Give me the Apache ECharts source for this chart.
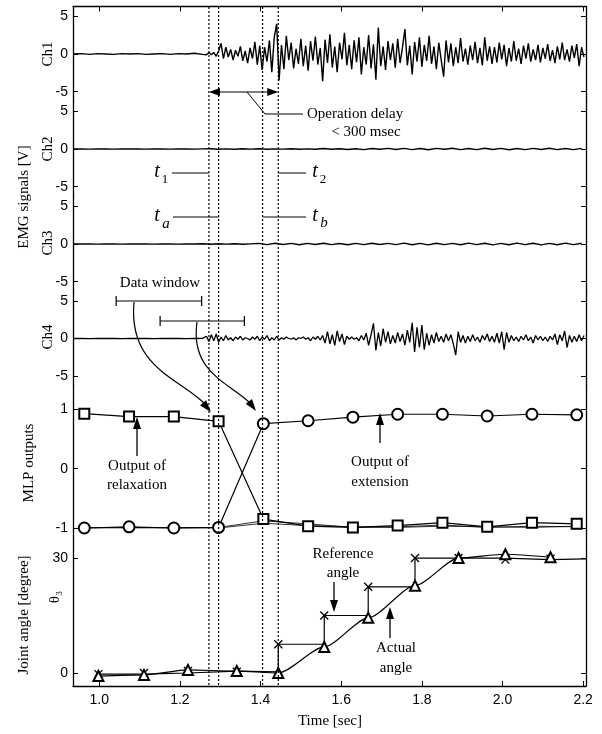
<!DOCTYPE html>
<html>
<head>
<meta charset="utf-8">
<script src="https://cdn.jsdelivr.net/npm/echarts@6/dist/echarts.min.js"></script>
<style>
  html, body { margin: 0; padding: 0; background: #fff; }
  #main { width: 602px; height: 734px; }
</style>
</head>
<body>
<div id="main"></div>
<script>
// data

// time axis [sec]
var timeMin = 0.935;
var timeMax = 2.207;
var timeTicks = [1.0, 1.2, 1.4, 1.6, 1.8, 2.0, 2.2];

// t1, ta, tb, t2 (dotted lines)
var markTimes = [1.272, 1.296, 1.405, 1.444];

// EMG: quiet part before onset, 0.02 s apart
var baseStart = 0.936;
var baseStep = 0.02;
var ch1Base = [0.0, 0.05, -0.05, 0.05, 0.0, -0.05, 0.05, 0.0, 0.05, -0.05, 0.0, 0.05, -0.05, 0.05, 0.0, 0.1, -0.05];
var ch4Base = [0.0, 0.02, -0.02, 0.0, 0.02, 0.0, -0.02, 0.0, 0.02, 0.0, -0.02, 0.0, 0.02, 0.0, -0.02, 0.0, 0.02];

// EMG: active part, 0.006 s apart
var burstStart = 1.26;
var burstStep = 0.006;
var ch1Burst = [
  0.1, -0.1, 0.2, -0.1, 0.2, -0.3, 0.4, 1.4, -0.6, 0.9,
  -0.4, 0.6, -0.8, 0.5, -0.3, 1.0, -0.9, 0.4, -1.2, 0.8,
  -0.6, 1.6, -1.4, 1.1, -2.1, 0.9, -1.0, 1.8, -2.4, 2.2,
  4.0, -3.5, 1.2, -2.0, 2.4, -0.8, 1.5, -1.9, 0.7, -1.3,
  2.0, -1.6, 1.1, -2.2, 1.7, -0.9, 2.3, -1.4, 0.8, -3.6,
  1.9, -1.2, 2.6, -1.8, 1.0, -2.4, 1.5, -0.7, 2.8, -1.5,
  1.2, -2.0, 1.8, -1.1, 2.2, -2.7, 0.9, -1.4, 2.5, -1.9,
  1.3, -3.4, 3.5, -1.6, 1.0, -2.1, 1.7, -0.8, 1.4, -1.8,
  2.0, -1.2, 0.9, 3.3, -1.5, 1.1, -2.7, 1.6, -1.0, 2.2,
  -1.7, 1.2, -0.9, 2.4, -1.3, 1.0, -2.0, 1.5, -0.8, -3.0,
  1.8, -1.1, 1.4, -1.6, 0.9, -1.2, 2.1, -1.0, 0.7, -1.4,
  1.1, -0.8, 1.6, -1.2, 0.8, -1.5, 2.2, -0.9, 1.0, -1.3,
  0.9, -1.1, 1.5, -0.7, 1.2, -1.6, 0.8, -1.0, 1.7, -0.9,
  0.7, -1.3, 1.1, -0.6, 1.4, -1.0, 0.6, -0.8, 1.2, -1.1,
  0.8, -0.6, 1.3, -0.9, 0.5, -1.2, 1.0, -0.7, 1.5, -0.8,
  0.6, -1.0, 1.1, -0.5, 1.3, -1.6, 0.9, -0.4
];
var ch4Burst = [
  0.0, 0.3, -0.4, 0.5, -0.3, 0.6, -0.5, 0.2, -0.3, 0.4,
  -0.2, 0.1, -0.3, 0.2, -0.1, 0.3, -0.2, 0.1, 0.0, -0.2,
  0.2, -0.1, 0.3, -0.3, 0.2, -0.1, 0.4, -0.3, 0.1, -0.2,
  0.3, -0.2, 0.1, -0.1, 0.2, 0.0, -0.1, 0.1, -0.2, 0.1,
  0.0, 0.2, -0.1, 0.1, -0.3, 0.2, -0.1, 0.3, -0.2, 0.4,
  -0.6, 0.9, -0.7, 0.5, -0.9, 1.0, -0.4, 0.6, -0.8, 0.3,
  -0.1, 0.2, -0.1, 0.1, -0.3, 0.4, -0.2, 0.7, -0.9, 0.5,
  2.0, -1.6, 0.8, -1.0, 1.3, -0.5, 0.9, -0.7, 0.4, -0.6,
  0.8, -0.4, 0.6, -0.9, 1.1, -0.5, 2.1, -1.8, 1.5, -1.2,
  1.8, -1.5, 0.7, -0.9, 0.5, -0.6, 0.8, -0.4, 0.3, -0.5,
  0.6, -0.3, 0.5, -0.7, -2.2, 0.9, -0.5, 0.4, -0.6, 0.3,
  -0.4, 0.5, -0.3, 0.2, -0.5, 0.4, -0.2, 0.6, -0.4, 0.3,
  -0.5, 0.7, -0.6, 0.9, -1.5, 0.8, -0.5, 0.4, -0.3, 0.2,
  -0.4, 0.3, -0.2, 0.5, -0.3, 0.2, -0.6, 0.4, -0.2, 0.3,
  -0.3, 0.2, -0.4, 0.3, -0.2, 0.6, -0.8, 0.5, -0.3, 1.0,
  -1.2, 0.4, -0.5, 0.3, -0.4, 0.5, -0.3, 0.4
];

// Ch2, Ch3: nearly flat over the whole range, 0.02 s apart
var ch2 = [
  0.0, 0.02, -0.02, 0.0, 0.02, -0.02, 0.0, 0.02, 0.0, -0.02,
  0.02, 0.0, -0.02, 0.02, 0.0, -0.02, 0.02, 0.04, -0.04, 0.02,
  -0.04, 0.04, -0.02, 0.04, -0.04, 0.02, -0.02, 0.04, -0.04, 0.02,
  -0.04, 0.06, -0.04, 0.04, -0.06, 0.04, -0.08, 0.06, -0.04, 0.08,
  -0.06, 0.08, -0.08, 0.06, -0.1, 0.08, -0.04, 0.1, -0.08, 0.06,
  -0.08, 0.1, -0.06, 0.08, -0.1, 0.06, -0.08, 0.08, -0.06, 0.1,
  -0.08, 0.06, -0.08, 0.08
];
var ch3 = [
  0.0, 0.02, 0.0, -0.02, 0.0, 0.02, -0.02, 0.0, 0.02, 0.0,
  -0.02, 0.02, 0.0, -0.02, 0.02, 0.0, 0.04, -0.04, 0.04, -0.02,
  0.04, -0.04, 0.02, 0.08, -0.08, 0.1, -0.06, 0.08, -0.1, 0.08,
  -0.06, 0.1, -0.08, 0.06, -0.1, 0.08, -0.08, 0.1, -0.06, 0.08,
  -0.08, 0.12, -0.1, 0.08, -0.12, 0.1, -0.08, 0.08, -0.1, 0.12,
  -0.08, 0.1, -0.12, 0.08, -0.1, 0.12, -0.08, 0.1, -0.12, 0.08,
  -0.1, 0.12, -0.08, 0.1
];

// MLP outputs, one every ~0.111 s
var mlpTimes = [0.963, 1.074, 1.185, 1.296, 1.407, 1.518, 1.629, 1.740, 1.851, 1.962, 2.073, 2.184];
var relaxation = [0.93, 0.88, 0.88, 0.80, -0.85, -0.97, -0.99, -0.96, -0.91, -0.98, -0.91, -0.93];
var extension = [-1.0, -0.98, -1.0, -0.99, 0.76, 0.81, 0.87, 0.92, 0.92, 0.89, 0.92, 0.91];
var otherOut1 = [-1.0, -0.99, -1.0, -0.99, -0.88, -0.93, -0.99, -0.98, -0.95, -0.99, -0.97, -0.98];
var otherOut2 = [-0.99, -1.0, -0.99, -1.0, -0.92, -0.96, -0.98, -0.99, -0.97, -0.98, -0.99, -0.97];

// joint angle theta3 [degree]
var angleTimes = [0.998, 1.111, 1.220, 1.341, 1.444, 1.558, 1.667, 1.783, 1.891, 2.007, 2.119];
var refAngle = [-0.3, 0.0, 0.5, 0.3, 7.5, 15.0, 22.5, 30.0, 30.0, 29.6, 29.8];
var actualAngle = [-0.8, -0.5, 0.8, 0.5, 0.0, 6.8, 14.4, 22.8, 30.0, 31.0, 30.2];

// axis ranges of the six stacked panels
var panelTops = [6.5, 101.5, 196.5, 291.5, 385.5, 537];
var panelHeights = [95, 95, 95, 94, 151.5, 149];
var panelMin = [-6.3, -6.3, -6.3, -6.25, -1.152, -3.4];
var panelMax = [6.3, 6.3, 6.3, 6.25, 1.405, 35.5];
var panelTicks = [[-5, 0, 5], [-5, 0, 5], [-5, 0, 5], [-5, 0, 5], [-1, 0, 1], [0, 30]];

function seq(start, step, vals) {
  return vals.map(function (v, i) { return [+(start + i * step).toFixed(4), v]; });
}
function pairs(ts, vals) {
  return vals.map(function (v, i) { return [ts[i], v]; });
}

var myChart = echarts.init(document.getElementById('main'));

var tickFont = { fontFamily: 'Liberation Sans', fontSize: 14, color: '#000' };
var serif = '"Liberation Serif", "DejaVu Serif", serif';

var grids = [], xAxes = [], yAxes = [];
for (var i = 0; i < 6; i++) {
  grids.push({ left: 73, right: 16, top: panelTops[i], height: panelHeights[i] });
  var isTop = i === 0, isBottom = i === 5;
  xAxes.push({
    gridIndex: i, type: 'value', min: timeMin, max: timeMax,
    show: isTop || isBottom,
    position: isTop ? 'top' : 'bottom',
    axisLine: { show: true, onZero: false, lineStyle: { color: '#000', width: 1.3 } },
    axisTick: { show: true, inside: true, length: 5, customValues: timeTicks, lineStyle: { color: '#000' } },
    axisLabel: isBottom ? Object.assign({ show: true, margin: 7, customValues: timeTicks,
      formatter: function (v) { return v.toFixed(1); } }, tickFont) : { show: false },
    splitLine: { show: false }
  });
}
for (var j = 0; j < 6; j++) {
  yAxes.push({
    gridIndex: j, type: 'value', position: 'left', min: panelMin[j], max: panelMax[j],
    axisLine: { show: true, onZero: false, lineStyle: { color: '#000', width: 1.3 } },
    axisTick: { show: true, inside: true, length: 5, customValues: panelTicks[j], lineStyle: { color: '#000' } },
    axisLabel: Object.assign({ show: true, margin: 5, customValues: panelTicks[j] }, tickFont),
    splitLine: { show: false }
  });
}
for (var k = 0; k < 6; k++) {
  yAxes.push({
    gridIndex: k, type: 'value', position: 'right', min: panelMin[k], max: panelMax[k],
    axisLine: { show: true, onZero: false, lineStyle: { color: '#000', width: 1.3 } },
    axisTick: { show: true, inside: true, length: 5, customValues: panelTicks[k], lineStyle: { color: '#000' } },
    axisLabel: { show: false },
    splitLine: { show: false }
  });
}

function emgSeries(idx, data, w) {
  return {
    type: 'line', xAxisIndex: idx, yAxisIndex: idx, data: data,
    showSymbol: false, symbol: 'none', silent: true,
    lineStyle: { color: '#000', width: w }
  };
}

var refData = pairs(angleTimes, refAngle);
refData.push({ value: [timeMax, refAngle[refAngle.length - 1]], symbol: 'none' });

var option = {
  animation: false,
  backgroundColor: '#fff',
  grid: grids,
  xAxis: xAxes,
  yAxis: yAxes,
  series: [
    emgSeries(0, seq(baseStart, baseStep, ch1Base).concat(seq(burstStart, burstStep, ch1Burst)), 1.4),
    emgSeries(1, seq(baseStart, baseStep, ch2), 1.4),
    emgSeries(2, seq(baseStart, baseStep, ch3), 1.4),
    emgSeries(3, seq(baseStart, baseStep, ch4Base).concat(seq(burstStart, burstStep, ch4Burst)), 1.3),
    {
      type: 'line', xAxisIndex: 4, yAxisIndex: 4, data: pairs(mlpTimes, otherOut1),
      symbol: 'none', lineStyle: { color: '#000', width: 0.8 }
    },
    {
      type: 'line', xAxisIndex: 4, yAxisIndex: 4, data: pairs(mlpTimes, otherOut2),
      symbol: 'none', lineStyle: { color: '#000', width: 0.8 }
    },
    {
      type: 'line', xAxisIndex: 4, yAxisIndex: 4, data: pairs(mlpTimes, relaxation),
      symbol: 'emptyRect', symbolSize: 10,
      itemStyle: { color: '#000', borderWidth: 1.2 },
      lineStyle: { color: '#000', width: 1.2 }
    },
    {
      type: 'line', xAxisIndex: 4, yAxisIndex: 4, data: pairs(mlpTimes, extension),
      symbol: 'emptyCircle', symbolSize: 11,
      itemStyle: { color: '#000', borderWidth: 1.2 },
      lineStyle: { color: '#000', width: 1.2 }
    },
    {
      type: 'line', xAxisIndex: 5, yAxisIndex: 5, data: refData, step: 'end',
      symbol: 'path://M0,0L10,10M10,0L0,10', symbolSize: 8,
      itemStyle: { color: '#000', borderColor: '#000', borderWidth: 1.3 },
      lineStyle: { color: '#000', width: 1.2 }
    },
    {
      type: 'line', xAxisIndex: 5, yAxisIndex: 5, data: pairs(angleTimes, actualAngle),
      smooth: 0.25, smoothMonotone: 'x',
      symbol: 'emptyTriangle', symbolSize: 10,
      itemStyle: { color: '#000', borderWidth: 1.2 },
      lineStyle: { color: '#000', width: 1.2 }
    }
  ]
};

myChart.setOption(option);

// annotations
function X(t) { return myChart.convertToPixel({ xAxisIndex: 0 }, t); }

function txt(x, y, s, size, extra) {
  var o = {
    type: 'text', x: x, y: y, z: 50,
    style: { text: s, font: (size || 15) + 'px ' + serif, fill: '#000', textAlign: 'center', textVerticalAlign: 'middle' }
  };
  if (extra) { Object.assign(o, extra); }
  return o;
}
function ln(x1, y1, x2, y2, w) {
  return { type: 'line', z: 50, shape: { x1: x1, y1: y1, x2: x2, y2: y2 }, style: { stroke: '#000', lineWidth: w || 1.2 } };
}
function head(tx, ty, ang, len, wid) {
  var c = Math.cos(ang), s = Math.sin(ang);
  var bx = tx - c * len, by = ty - s * len;
  return {
    type: 'polygon', z: 51,
    shape: { points: [[tx, ty], [bx - s * wid / 2, by + c * wid / 2], [bx + s * wid / 2, by - c * wid / 2]] },
    style: { fill: '#000' }
  };
}

var g = [];
markTimes.forEach(function (t) {
  g.push({ type: 'line', z: 60, shape: { x1: X(t), y1: 7, x2: X(t), y2: 686 },
    style: { stroke: '#000', lineWidth: 1.2, lineDash: [2, 2] } });
});

// operation delay
var xa = X(markTimes[0]), xb = X(markTimes[3]);
g.push(ln(xa + 8, 92, xb - 8, 92));
g.push(head(xa, 92, Math.PI, 11, 8));
g.push(head(xb, 92, 0, 11, 8));
g.push(ln(247, 92, 265, 114, 1));
g.push(ln(265, 114, 303, 114, 1));
g.push(txt(307, 114, 'Operation delay', 15, { style: { text: 'Operation delay', font: '15px ' + serif, fill: '#000', textAlign: 'left', textVerticalAlign: 'middle' } }));
g.push(txt(366, 132, '< 300 msec', 15));

// t1, ta, tb, t2
var tFont = 'italic 20px ' + serif;
g.push({ type: 'text', x: 157, y: 172, z: 50, style: { text: 't', font: tFont, fill: '#000', textAlign: 'center', textVerticalAlign: 'middle' } });
g.push(txt(165, 180, '1', 13));
g.push(ln(172, 173, X(markTimes[0]), 173, 1));
g.push({ type: 'text', x: 157, y: 216, z: 50, style: { text: 't', font: tFont, fill: '#000', textAlign: 'center', textVerticalAlign: 'middle' } });
g.push({ type: 'text', x: 166, y: 224, z: 50, style: { text: 'a', font: 'italic 15px ' + serif, fill: '#000', textAlign: 'center', textVerticalAlign: 'middle' } });
g.push(ln(173, 217, X(markTimes[1]), 217, 1));
g.push(ln(X(markTimes[3]), 173, 306, 173, 1));
g.push({ type: 'text', x: 315, y: 172, z: 50, style: { text: 't', font: tFont, fill: '#000', textAlign: 'center', textVerticalAlign: 'middle' } });
g.push(txt(323, 180, '2', 13));
g.push(ln(X(markTimes[2]), 217, 306, 217, 1));
g.push({ type: 'text', x: 315, y: 216, z: 50, style: { text: 't', font: tFont, fill: '#000', textAlign: 'center', textVerticalAlign: 'middle' } });
g.push({ type: 'text', x: 324, y: 223, z: 50, style: { text: 'b', font: 'italic 15px ' + serif, fill: '#000', textAlign: 'center', textVerticalAlign: 'middle' } });

// data windows
var win1 = [1.042, 1.254], win2 = [1.151, 1.360];
g.push(txt(160, 283, 'Data window', 15));
[[win1, 301], [win2, 321]].forEach(function (w) {
  var a = X(w[0][0]), b = X(w[0][1]), y = w[1];
  g.push(ln(a, y, b, y, 1.2));
  g.push(ln(a, y - 5, a, y + 5, 1.2));
  g.push(ln(b, y - 5, b, y + 5, 1.2));
});
g.push({ type: 'bezierCurve', z: 50, shape: { x1: 134, y1: 302, cpx1: 128, cpy1: 368, cpx2: 180, cpy2: 378, x2: 205, y2: 404 },
  style: { stroke: '#000', lineWidth: 1.2, fill: null } });
g.push(head(211, 412, Math.atan2(24, 21), 12, 8));
g.push({ type: 'bezierCurve', z: 50, shape: { x1: 197, y1: 322, cpx1: 190, cpy1: 372, cpx2: 228, cpy2: 382, x2: 250, y2: 403 },
  style: { stroke: '#000', lineWidth: 1.2, fill: null } });
g.push(head(256, 411, Math.atan2(24, 18), 12, 8));

// output labels
g.push(ln(137, 456, 137, 425, 1.3));
g.push(head(137, 417, -Math.PI / 2, 12, 8));
g.push(txt(137, 466, 'Output of', 15));
g.push(txt(137, 485, 'relaxation', 15));
g.push(ln(380, 443, 380, 421, 1.3));
g.push(head(380, 413, -Math.PI / 2, 12, 8));
g.push(txt(380, 462, 'Output of', 15));
g.push(txt(380, 482, 'extension', 15));

// angle labels
g.push(txt(343, 554, 'Reference', 15));
g.push(txt(343, 573, 'angle', 15));
g.push(ln(334, 582, 334, 604, 1.3));
g.push(head(334, 612, Math.PI / 2, 12, 8));
g.push(txt(396, 648, 'Actual', 15));
g.push(txt(396, 668, 'angle', 15));
g.push(ln(390, 638, 390, 615, 1.3));
g.push(head(390, 607, -Math.PI / 2, 12, 8));

// axis titles
var rot = { rotation: Math.PI / 2 };
g.push(txt(24, 197, 'EMG signals [V]', 15, rot));
g.push(txt(48, 54, 'Ch1', 15, rot));
g.push(txt(48, 149, 'Ch2', 15, rot));
g.push(txt(48, 243, 'Ch3', 15, rot));
g.push(txt(48, 337, 'Ch4', 15, rot));
g.push(txt(29, 463, 'MLP outputs', 15, rot));
g.push(txt(24, 615, 'Joint angle [degree]', 15, rot));
g.push(txt(55, 597, 'θ₃', 15, rot));
g.push(txt(330, 721, 'Time [sec]', 15));

myChart.setOption({ graphic: g });
</script>
</body>
</html>
